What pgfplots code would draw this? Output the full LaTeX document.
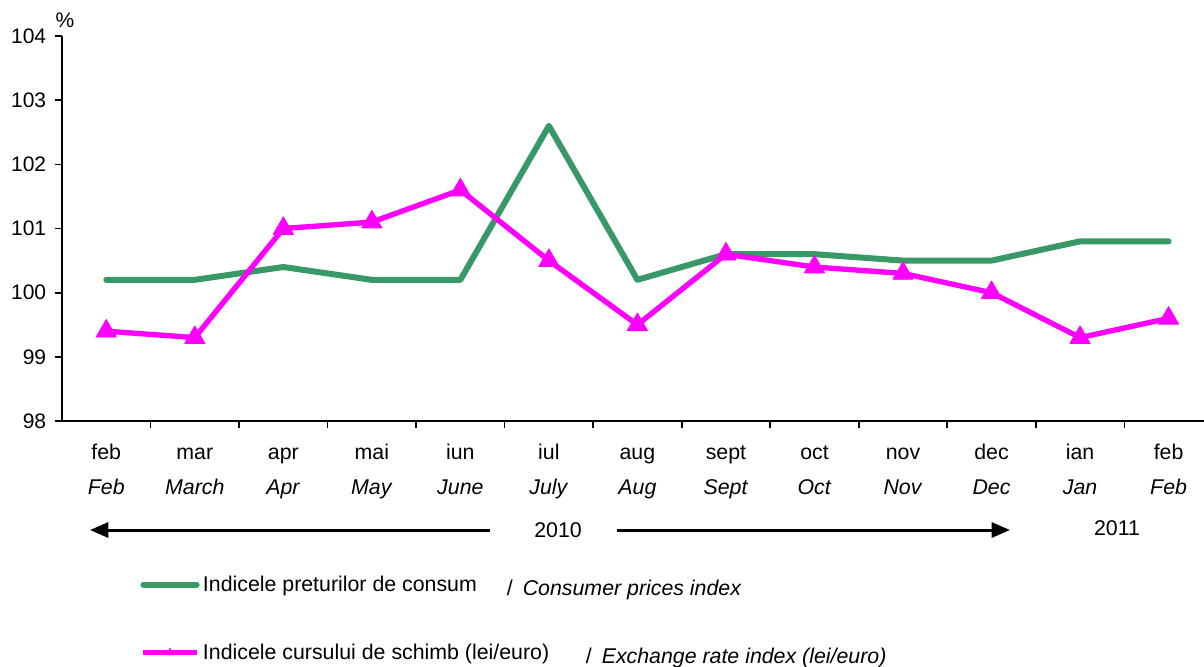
\documentclass[border=0pt]{standalone}
\usepackage{fontspec}
\setmainfont{Liberation Sans}
\usepackage{pgfplots}
\pgfplotsset{compat=1.18}
\usetikzlibrary{arrows.meta}
\definecolor{cpigreen}{RGB}{56,152,102}
\definecolor{fxmag}{RGB}{255,0,255}
\begin{document}
\begin{tikzpicture}
\useasboundingbox (0,0) rectangle (722.4pt,-399.6pt);
\begin{axis}[
 at={(37.2pt,-252.6pt)}, anchor=south west,
 scale only axis, width=685.2pt, height=231pt,
 xmin=-0.5, xmax=12.4, ymin=98, ymax=104,
 axis x line*=bottom, axis y line*=left,
 axis line style={line width=1pt,-},
 xtick={0,...,12},
 xticklabels={{\strut feb\\\textit{Feb}},{\strut mar\\\textit{March}},{\strut apr\\\textit{Apr}},{\strut mai\\\textit{May}},{\strut iun\\\textit{June}},{\strut iul\\\textit{July}},{\strut aug\\\textit{Aug}},{\strut sept\\\textit{Sept}},{\strut oct\\\textit{Oct}},{\strut nov\\\textit{Nov}},{\strut dec\\\textit{Dec}},{\strut ian\\\textit{Jan}},{\strut feb\\\textit{Feb}}},
 major x tick style={draw=none},
 minor xtick={0.5,1.5,...,11.5},
 ytick={98,99,...,104},
 tick align=outside,
 tick style={black,line width=1pt},
 major tick length=4.2pt, minor tick length=4.2pt,
 /pgf/number format/assume math mode=true,
 yticklabel style={font=\fontsize{12.6}{14}\selectfont, xshift=-1.8pt},
 xticklabel style={align=center, font=\fontsize{12.8}{21}\selectfont, inner sep=0pt, yshift=-4.2pt},
 legend style={draw=none, fill=none, at={(0.0683,-0.392)}, anchor=north west,
   row sep=26pt, font=\fontsize{12.8}{14}\selectfont, inner sep=0pt},
 legend cell align=left,
 legend image code/.code={\draw[mark repeat=2,mark phase=2,#1,mark size=2.5pt] plot coordinates {(0pt,0pt) (16pt,0pt) (32pt,0pt)};},
 clip=false,
]
\addplot[cpigreen, line width=3.6pt, line join=round, line cap=round] coordinates {
(0,100.2) (1,100.2) (2,100.4) (3,100.2) (4,100.2) (5,102.6) (6,100.2) (7,100.6) (8,100.6) (9,100.5) (10,100.5) (11,100.8) (12,100.8)};
\addlegendentry{Indicele preturilor de consum\hspace{18pt}\raisebox{-2.4pt}{/\hspace{6pt}\textit{Consumer prices index}}}
\addplot[fxmag, line width=3.2pt, line join=round, mark=triangle*, mark size=7pt, mark options={solid, line width=0.5pt}] coordinates {
(0,99.4) (1,99.3) (2,101.0) (3,101.1) (4,101.6) (5,100.5) (6,99.5) (7,100.6) (8,100.4) (9,100.3) (10,100.0) (11,99.3) (12,99.6)};
\addlegendentry{Indicele cursului de schimb (lei/euro)\hspace{22pt}\raisebox{-2.4pt}{/\hspace{6pt}\textit{Exchange rate index (lei/euro)}}}
\end{axis}
\node[font=\fontsize{12.6}{14}\selectfont] at (39pt,-12pt) {\%};
\draw[line width=1.8pt, -{Triangle[length=11pt,width=9pt]}] (294pt,-318pt) -- (54pt,-318pt);
\draw[line width=1.8pt, -{Triangle[length=11pt,width=9pt]}] (370.2pt,-318pt) -- (606pt,-318pt);
\node[font=\fontsize{12.8}{14}\selectfont] at (334.8pt,-318pt) {2010};
\node[font=\fontsize{12.8}{14}\selectfont] at (670.2pt,-316.8pt) {2011};
\end{tikzpicture}
\end{document}
